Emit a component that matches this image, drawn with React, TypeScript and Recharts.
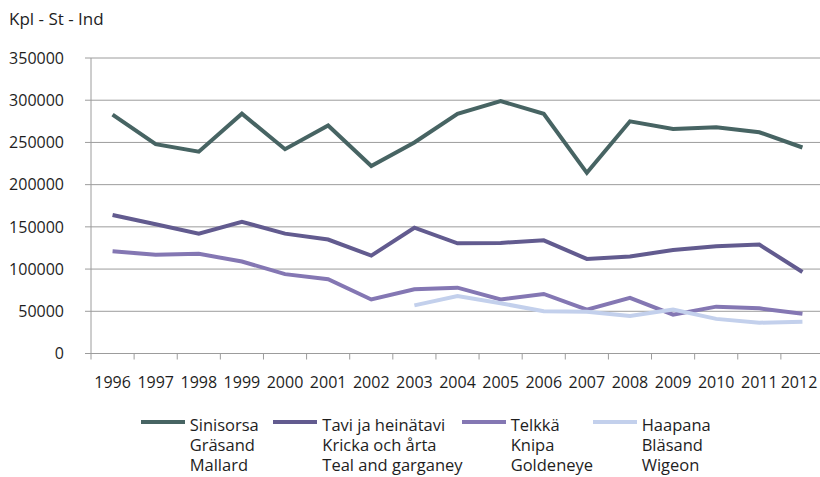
import { CartesianGrid, Line, LineChart, XAxis, YAxis } from "recharts";

const years = [
  "1996", "1997", "1998", "1999", "2000", "2001", "2002", "2003", "2004",
  "2005", "2006", "2007", "2008", "2009", "2010", "2011", "2012",
];

const sinisorsa = [
  283000, 248000, 239000, 284000, 242000, 270000, 222000, 250000, 284000,
  299000, 284000, 214000, 275000, 266000, 268000, 262000, 244000,
];
const tavi = [
  164000, 153000, 142000, 156000, 142000, 135000, 116000, 149000, 130500,
  131000, 134000, 112000, 115000, 122500, 127000, 129000, 96500,
];
const telkka = [
  121000, 117000, 118000, 109000, 94000, 88000, 64000, 76000, 78000,
  64000, 70500, 52000, 66000, 46000, 55500, 53500, 47000,
];
const haapana = [
  null, null, null, null, null, null, null, 57000, 68000,
  59500, 50000, 49500, 44500, 52000, 41000, 36500, 37500,
];

const yTicks = [0, 50000, 100000, 150000, 200000, 250000, 300000, 350000];

const series = [
  { key: "sinisorsa", lines: ["Sinisorsa", "Gräsand", "Mallard"], color: "#476463" },
  { key: "tavi", lines: ["Tavi ja heinätavi", "Kricka och årta", "Teal and garganey"], color: "#625b8f" },
  { key: "telkka", lines: ["Telkkä", "Knipa", "Goldeneye"], color: "#8477b3" },
  { key: "haapana", lines: ["Haapana", "Bläsand", "Wigeon"], color: "#c3d0ec" },
];

const data = years.map((year, i) => ({
  year,
  sinisorsa: sinisorsa[i],
  tavi: tavi[i],
  telkka: telkka[i],
  haapana: haapana[i],
}));

const W = 820;
const H = 477;
const PLOT_LEFT = 91;
const PLOT_RIGHT = 824; // last band runs a little past the picture edge
const PLOT_TOP = 58;
const PLOT_BOTTOM = 353.5;
const HALF_BAND = (PLOT_RIGHT - PLOT_LEFT) / years.length / 2;

const legendLeft = [140.7, 273.3, 461.7, 592.7];

const FONT = "'Open Sans', sans-serif";
const TEXT = "#1e1e1e";
const GRID = "#9c9c9c";

function YearTick(props: any) {
  const { x, y, payload, index } = props;
  const last = index === years.length - 1;
  // keep the last label inside the picture, like the original
  const tx = last ? Math.min(x, W - 21) : x;
  return (
    <g>
      <line x1={x - HALF_BAND} y1={y} x2={x - HALF_BAND} y2={y + 6} stroke={GRID} />
      <text x={tx} y={y + 34.5} textAnchor="middle" fontSize={16} fill={TEXT} fontFamily={FONT}>
        {payload.value}
      </text>
    </g>
  );
}

export default function App() {
  return (
    <div
      style={{
        position: "absolute",
        left: 0,
        top: 0,
        width: W,
        height: H,
        overflow: "hidden",
        background: "#fff",
        fontFamily: FONT,
        color: TEXT,
      }}
    >
      <style>{`html,body{margin:0;padding:0;overflow:hidden;}`}</style>
      <div style={{ position: "absolute", left: 9, top: 9, fontSize: 17, lineHeight: "20px" }}>
        Kpl - St - Ind
      </div>
      <LineChart
        width={W}
        height={H}
        data={data}
        margin={{ top: PLOT_TOP, right: W - PLOT_RIGHT, bottom: 0, left: 0 }}
      >
        <CartesianGrid vertical={false} stroke={GRID} />
        <XAxis
          dataKey="year"
          height={H - PLOT_BOTTOM}
          padding={{ left: HALF_BAND, right: HALF_BAND }}
          tickLine={false}
          tickSize={0}
          tickMargin={0}
          interval={0}
          axisLine={{ stroke: GRID }}
          tick={<YearTick />}
        />
        <YAxis
          width={PLOT_LEFT}
          domain={[0, 350000]}
          ticks={yTicks}
          interval={0}
          tickSize={6}
          tickMargin={21}
          tickLine={{ stroke: GRID }}
          axisLine={{ stroke: GRID }}
          tick={{ fontSize: 16, fill: TEXT, fontFamily: FONT }}
        />
        {series.map((s) => (
          <Line
            key={s.key}
            dataKey={s.key}
            stroke={s.color}
            strokeWidth={4}
            dot={false}
            activeDot={false}
            isAnimationActive={false}
          />
        ))}
      </LineChart>
      {series.map((s, i) => (
        <div key={s.key}>
          <div
            style={{
              position: "absolute",
              left: legendLeft[i],
              top: 420.3,
              width: 44,
              height: 4,
              background: s.color,
            }}
          />
          <div
            style={{
              position: "absolute",
              left: legendLeft[i] + 49,
              top: 414.5,
              fontSize: 16.5,
              lineHeight: "20.4px",
              whiteSpace: "nowrap",
            }}
          >
            {s.lines.map((t) => (
              <div key={t} style={{ height: 20.4 }}>{t}</div>
            ))}
          </div>
        </div>
      ))}
    </div>
  );
}
